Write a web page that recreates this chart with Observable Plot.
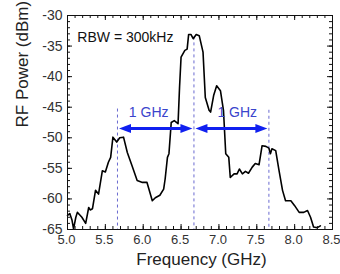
<!DOCTYPE html>
<html>
<head>
<meta charset="utf-8">
<script src="https://cdn.jsdelivr.net/npm/d3@7"></script>
<script src="https://cdn.jsdelivr.net/npm/@observablehq/plot@0.6"></script>
<style>
  html, body { margin: 0; padding: 0; background: white; }
</style>
</head>
<body>
<div id="chart"></div>
<script>
// Spectrum trace (GHz, dBm)
const freq = [5.00, 5.03, 5.06, 5.08, 5.11, 5.13, 5.16, 5.19, 5.24, 5.28, 5.30, 5.33, 5.37, 5.41, 5.46, 5.50, 5.54, 5.57, 5.60, 5.65,
  5.69, 5.74, 5.79, 5.85, 5.92, 5.99, 6.05, 6.12, 6.16, 6.22, 6.27, 6.29, 6.32, 6.34, 6.37, 6.41, 6.46, 6.48, 6.50, 6.55,
  6.58, 6.60, 6.63, 6.66, 6.70, 6.74, 6.79, 6.82, 6.87, 6.89, 6.93, 6.97, 7.02, 7.06, 7.09, 7.13, 7.15, 7.20, 7.24, 7.27,
  7.31, 7.35, 7.39, 7.44, 7.48, 7.53, 7.57, 7.62, 7.66, 7.68, 7.70, 7.75, 7.79, 7.84, 7.88, 7.95, 8.00, 8.06, 8.12, 8.17,
  8.21, 8.25, 8.30, 8.34];
const power = [-62.7, -62.4, -63.5, -64.9, -63.0, -62.2, -62.6, -63.0, -64.0, -61.4, -61.8, -61.6, -58.6, -59.2, -55.4, -55.6, -54.0, -53.2, -49.9, -50.7,
  -50.0, -49.9, -52.4, -54.5, -57.0, -57.3, -57.3, -60.3, -59.8, -59.4, -58.4, -56.7, -53.2, -52.6, -47.5, -47.2, -47.7, -41.7, -36.8, -35.7,
  -35.5, -33.1, -33.1, -33.8, -33.1, -33.3, -36.0, -43.4, -45.5, -45.8, -43.1, -41.5, -42.3, -45.5, -52.6, -53.2, -56.5, -55.9, -55.9, -55.1,
  -55.9, -55.5, -55.8, -54.8, -54.2, -54.4, -51.3, -51.4, -51.7, -52.6, -51.8, -52.1, -55.1, -58.6, -60.3, -60.3, -61.1, -62.2, -62.2, -61.9,
  -63.0, -64.6, -64.7, -64.4];

// Axis ticks
const xTicks = [5.0, 5.5, 6.0, 6.5, 7.0, 7.5, 8.0, 8.5];
const yTicks = [-65, -60, -55, -50, -45, -40, -35, -30];
const xMinor = d3.range(50, 86, 1).map(d => d / 10);
const yMinor = d3.range(-65, -29, 1);

// Annotations: dashed markers, 1 GHz spacing arrows
const markerX = [5.66, 6.67, 7.66];
const markerTop = [-45.3, -33.5, -45.5];
const arrowStart = [5.68, 6.69];
const arrowEnd = [6.65, 7.64];
const arrowLevel = [-48.5, -48.5];
const spanLabels = ["1 GHz", "1 GHz"];
const spanLabelX = [5.81, 6.98];
const spanLabelY = [-45.8, -45.9];
const noteText = ["RBW = 300kHz"];
const noteX = [5.13];
const noteY = [-33.6];

const trace = freq.map((f, i) => ({f, p: power[i]}));
const markers = markerX.map((x, i) => ({x, top: markerTop[i]}));
const arrows = arrowStart.map((x1, i) => ({x1, x2: arrowEnd[i], y: arrowLevel[i]}));
const spans = spanLabels.map((t, i) => ({t, x: spanLabelX[i], y: spanLabelY[i]}));
const notes = noteText.map((t, i) => ({t, x: noteX[i], y: noteY[i]}));

const W = 340, H = 274;
const mL = 67, mR = 8, mT = 15, mB = 45;
const fw = W - mL - mR, fh = H - mT - mB;
const blue = "#1020f0";

const headLeft = {draw(ctx) { ctx.moveTo(0, 0); ctx.lineTo(12, -4.5); ctx.lineTo(12, 4.5); ctx.closePath(); }};
const headRight = {draw(ctx) { ctx.moveTo(0, 0); ctx.lineTo(-12, -4.5); ctx.lineTo(-12, 4.5); ctx.closePath(); }};

const chart = Plot.plot({
  width: W, height: H,
  marginLeft: mL, marginRight: mR, marginTop: mT, marginBottom: mB,
  style: {fontFamily: "'Liberation Sans', Arial, sans-serif", fontSize: "14px", color: "#333", background: "white"},
  x: {domain: [5, 8.5], label: null},
  y: {domain: [-65, -30], label: null},
  marks: [
    // dashed marker lines
    Plot.ruleX(markers, {x: "x", y1: "top", y2: -65, stroke: "#6a6ad0", strokeWidth: 1, strokeDasharray: "3,3"}),
    // spectrum
    Plot.line(trace, {x: "f", y: "p", stroke: "black", strokeWidth: 1.6}),
    // arrows
    Plot.link(arrows, {x1: d => d.x1 + 0.1, x2: d => d.x2 - 0.1, y1: "y", y2: "y", stroke: blue, strokeWidth: 3}),
    Plot.dot(arrows, {x: "x1", y: "y", symbol: headLeft, fill: blue, stroke: "none"}),
    Plot.dot(arrows, {x: "x2", y: "y", symbol: headRight, fill: blue, stroke: "none"}),
    Plot.text(spans, {x: "x", y: "y", text: "t", textAnchor: "start", fill: "#3a44cc", fontSize: 14}),
    Plot.text(notes, {x: "x", y: "y", text: "t", textAnchor: "start", fill: "#111", fontSize: 14}),
    // inward ticks
    Plot.ruleX(xTicks, {insetTop: fh - 5, stroke: "#111"}),
    Plot.ruleX(xTicks, {insetBottom: fh - 5, stroke: "#111"}),
    Plot.ruleX(xMinor, {insetTop: fh - 3, stroke: "#111"}),
    Plot.ruleX(xMinor, {insetBottom: fh - 3, stroke: "#111"}),
    Plot.ruleY(yTicks, {insetRight: fw - 5, stroke: "#111"}),
    Plot.ruleY(yTicks, {insetLeft: fw - 5, stroke: "#111"}),
    Plot.ruleY(yMinor, {insetRight: fw - 3, stroke: "#111"}),
    Plot.ruleY(yMinor, {insetLeft: fw - 3, stroke: "#111"}),
    Plot.frame({stroke: "#111", strokeWidth: 1}),
    // axes
    Plot.axisX({ticks: xTicks, tickSize: 0, tickPadding: 5, dx: -1, tickFormat: d3.format(".1f"), fontSize: 13, label: null}),
    Plot.axisY({ticks: yTicks, tickSize: 0, tickPadding: 5, tickFormat: d => String(d), fontSize: 14, label: null}),
    Plot.text(["Frequency (GHz)"], {frameAnchor: "bottom", dx: 1.5, dy: 35, fontSize: 17, fill: "#222"}),
    Plot.text(["RF Power (dBm)"], {frameAnchor: "left", rotate: -90, dx: -45, dy: 5, fontSize: 17, fill: "#222"})
  ]
});
document.getElementById("chart").appendChild(chart);
</script>
</body>
</html>
